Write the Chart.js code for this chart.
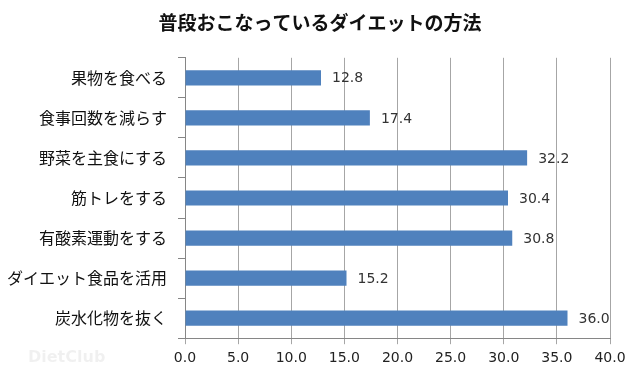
<!DOCTYPE html>
<html><head><meta charset="utf-8">
<script src="https://cdn.jsdelivr.net/npm/chart.js@4/dist/chart.umd.min.js"></script>
<style>html,body{margin:0;padding:0;background:#fff}#wrap{width:640px;height:380px}</style>
</head><body><div id="wrap"><canvas id="c" width="640" height="380"></canvas></div>
<script>
const categories = ['果物を食べる','食事回数を減らす','野菜を主食にする','筋トレをする','有酸素運動をする','ダイエット食品を活用','炭水化物を抜く'];
const values = [12.8, 17.4, 32.2, 30.4, 30.8, 15.2, 36.0];
const titleText = '普段おこなっているダイエットの方法';

const labelPlugin = {
  id: 'valLabels',
  afterDatasetsDraw(chart) {
    const ctx = chart.ctx;
    const meta = chart.getDatasetMeta(0);
    ctx.save();
    ctx.font = '14px "DejaVu Sans"';
    ctx.fillStyle = '#333';
    ctx.textBaseline = 'middle';
    ctx.textAlign = 'left';
    meta.data.forEach((el, i) => {
      ctx.fillText(values[i].toFixed(1), el.x + 11, el.y + 1);
    });
    ctx.font = 'bold 16px "DejaVu Sans"';
    ctx.fillStyle = 'rgba(0,0,0,0.06)';
    ctx.fillText('DietClub', 28, 358);
    ctx.restore();
  }
};

new Chart(document.getElementById('c'), {
  type: 'bar',
  data: {
    labels: categories,
    datasets: [{
      data: values,
      backgroundColor: '#4F81BD',
      borderColor: '#4A7EBB',
      borderWidth: 0,
      barPercentage: 0.38,
      categoryPercentage: 1.0
    }]
  },
  options: {
    indexAxis: 'y',
    responsive: false,
    animation: false,
    layout: { padding: { left: 8, right: 8, top: 0, bottom: 7 } },
    plugins: {
      legend: { display: false },
      tooltip: { enabled: false },
      title: {
        display: true,
        text: titleText,
        color: '#111',
        font: { family: '"Noto Sans CJK JP"', size: 19, weight: 'bold', lineHeight: 1.2 },
        padding: { top: 11, bottom: 24 }
      }
    },
    scales: {
      x: {
        min: 0, max: 40,
        ticks: {
          stepSize: 5,
          color: '#222',
          padding: 6,
          font: { family: '"DejaVu Sans"', size: 14 },
          callback: (v) => Number(v).toFixed(1)
        },
        grid: { color: '#A6A6A6', lineWidth: 1, tickLength: 6, drawTicks: true },
        border: { color: '#868686' }
      },
      y: {
        afterFit(scale) { scale.width = 177; },
        ticks: {
          color: '#111',
          padding: 11,
          font: { family: '"Noto Sans CJK JP"', size: 16 }
        },
        grid: { drawOnChartArea: false, tickLength: 7, color: '#868686', offset: true },
        border: { color: '#868686' }
      },
      yR: {
        type: 'category',
        axis: 'y',
        position: 'right',
        display: true,
        ticks: { display: false },
        grid: { display: false, drawTicks: false },
        border: { display: false },
        afterFit(scale) { scale.width = 22; }
      }
    }
  },
  plugins: [labelPlugin]
});
</script>
</body></html>
